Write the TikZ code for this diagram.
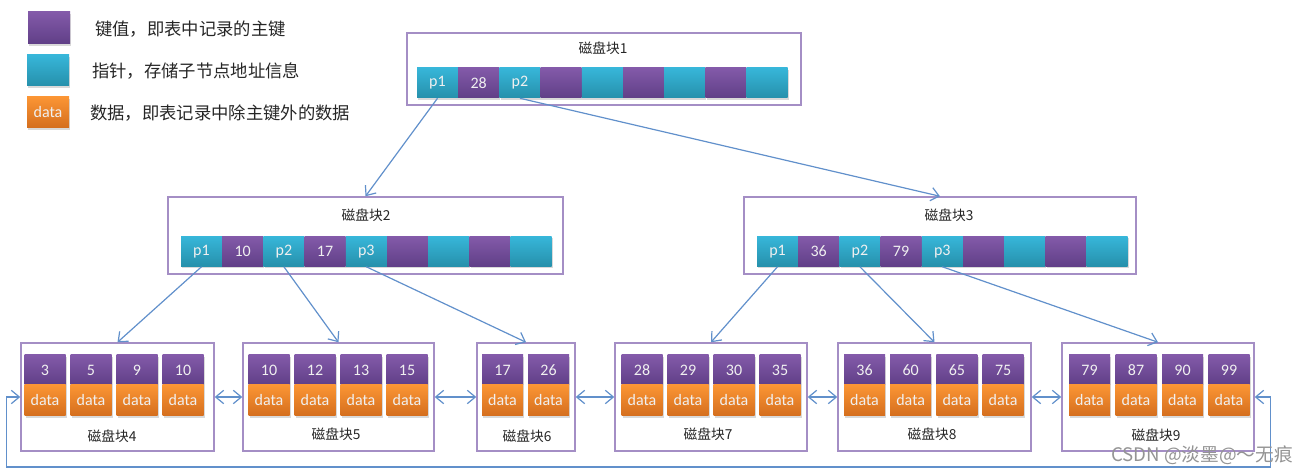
\documentclass[tikz,border=0pt]{standalone}
\usepackage{fontspec}
\usetikzlibrary{arrows.meta,shadows,fit,calc}
\newfontfamily\cjk{Noto Sans CJK SC}
\newfontfamily\carl{Carlito}
\definecolor{keytop}{HTML}{835AA9}
\definecolor{keybot}{HTML}{603F87}
\definecolor{ptrtop}{HTML}{37B6D9}
\definecolor{ptrbot}{HTML}{2690AB}
\definecolor{datatop}{HTML}{FB9534}
\definecolor{databot}{HTML}{D46E1E}
\definecolor{boxc}{HTML}{A48EC5}
\definecolor{linkc}{HTML}{6190CB}
\begin{document}
\begin{tikzpicture}[x=0.75pt,y=-0.75pt,
  cellbase/.style={inner sep=0pt, minimum width=30.75pt, minimum height=22.5pt,
    text=white!94!black, font=\carl\fontsize{12}{13}\selectfont,
    drop shadow={shadow xshift=0.9pt, shadow yshift=-1.3pt, opacity=0.3}},
  kc/.style={cellbase, top color=keytop, bottom color=keybot},
  pc/.style={cellbase, top color=ptrtop, bottom color=ptrbot},
  dc/.style={cellbase, top color=datatop, bottom color=databot, minimum height=23.25pt},
  blockbox/.style={draw=boxc, line width=1.1pt, inner sep=0pt},
  blocktitle/.style={font=\cjk\fontsize{10.3}{12}\selectfont, text=black!85, inner sep=0pt},
  legendtext/.style={font=\cjk\fontsize{13}{15}\selectfont, text=black!85, inner sep=0pt, anchor=west},
  tip/.tip={Straight Barb[length=6pt,width=10pt]},
  conn/.style={draw=linkc, line width=0.9pt, -tip},
  biconn/.style={draw=linkc, line width=0.9pt, tip-tip}]
\useasboundingbox (0,0) rectangle (1314,473);

% legend
\node[kc, minimum width=31.5pt, minimum height=24pt] (lg1) at (49,28) {};
\node[pc, minimum width=31.5pt, minimum height=23.25pt] (lg2) at (48,70.5) {};
\node[dc, minimum width=31.5pt, minimum height=23.25pt] (lg3) at (48,112.5) {data};
\node[legendtext] (lt1) at (95,29) {键值，即表中记录的主键};
\node[legendtext] (lt2) at (92,71) {指针，存储子节点地址信息};
\node[legendtext] (lt3) at (90,113) {数据，即表记录中除主键外的数据};

% block boxes
\node[blockbox, fit={(407,33) (801,105)}] (b1) {};
\node[blockbox, fit={(168,197) (563,274)}] (b2) {};
\node[blockbox, fit={(744,197) (1136,274)}] (b3) {};
\node[blockbox, fit={(21,343) (214,451)}] (b4) {};
\node[blockbox, fit={(243,343) (434,451)}] (b5) {};
\node[blockbox, fit={(477,343) (575,451)}] (b6) {};
\node[blockbox, fit={(615,343) (807,451)}] (b7) {};
\node[blockbox, fit={(838,343) (1031,451)}] (b8) {};
\node[blockbox, fit={(1062,343) (1254,451)}] (b9) {};

% titles
\node[blocktitle] (t1) at (603,48) {磁盘块1};
\node[blocktitle] (t2) at (366,215) {磁盘块2};
\node[blocktitle] (t3) at (949,215) {磁盘块3};
\node[blocktitle] (t4) at (112,436) {磁盘块4};
\node[blocktitle] (t5) at (336,434) {磁盘块5};
\node[blocktitle] (t6) at (527,436) {磁盘块6};
\node[blocktitle] (t7) at (708,434) {磁盘块7};
\node[blocktitle] (t8) at (932,434) {磁盘块8};
\node[blocktitle] (t9) at (1156,435) {磁盘块9};

% internal node cells
\foreach \i/\t/\lab in {1/pc/p1, 2/kc/28, 3/pc/p2, 4/kc/{}, 5/pc/{}, 6/kc/{}, 7/pc/{}, 8/kc/{}, 9/pc/{}}
  \node[\t] (c1-\i) at ({437.5+(\i-1)*41.2},83) {\lab};
\foreach \i/\t/\lab in {1/pc/p1, 2/kc/10, 3/pc/p2, 4/kc/17, 5/pc/p3, 6/kc/{}, 7/pc/{}, 8/kc/{}, 9/pc/{}}
  \node[\t] (c2-\i) at ({201.5+(\i-1)*41.2},251.5) {\lab};
\foreach \i/\t/\lab in {1/pc/p1, 2/kc/36, 3/pc/p2, 4/kc/79, 5/pc/p3, 6/kc/{}, 7/pc/{}, 8/kc/{}, 9/pc/{}}
  \node[\t] (c3-\i) at ({777.5+(\i-1)*41.2},251.5) {\lab};

% leaf cells
\foreach \k [count=\i] in {3,5,9,10} {
  \node[kc] (k4-\i) at ({45+(\i-1)*46},370) {\k};
  \node[dc] (d4-\i) at ({45+(\i-1)*46},400.5) {data};}
\foreach \k [count=\i] in {10,12,13,15} {
  \node[kc] (k5-\i) at ({269+(\i-1)*46},370) {\k};
  \node[dc] (d5-\i) at ({269+(\i-1)*46},400.5) {data};}
\foreach \k [count=\i] in {17,26} {
  \node[kc] (k6-\i) at ({502.5+(\i-1)*46},370) {\k};
  \node[dc] (d6-\i) at ({502.5+(\i-1)*46},400.5) {data};}
\foreach \k [count=\i] in {28,29,30,35} {
  \node[kc] (k7-\i) at ({642+(\i-1)*46},370) {\k};
  \node[dc] (d7-\i) at ({642+(\i-1)*46},400.5) {data};}
\foreach \k [count=\i] in {36,60,65,75} {
  \node[kc] (k8-\i) at ({864.5+(\i-1)*46.2},370) {\k};
  \node[dc] (d8-\i) at ({864.5+(\i-1)*46.2},400.5) {data};}
\foreach \k [count=\i] in {79,87,90,99} {
  \node[kc] (k9-\i) at ({1089.5+(\i-1)*46.5},370) {\k};
  \node[dc] (d9-\i) at ({1089.5+(\i-1)*46.5},400.5) {data};}

% tree connectors
\draw[conn] (c1-1.south) -- (b2.north);
\draw[conn] (c1-3.south) -- (b3.north);
\draw[conn] (c2-1.south) -- (b4.north);
\draw[conn] (c2-3.south) -- (b5.north);
\draw[conn] (c2-5.south) -- (b6.north);
\draw[conn] (c3-1.south) -- (b7.north);
\draw[conn] (c3-3.south) -- (b8.north);
\draw[conn] (c3-5.south) -- (b9.north);

% leaf links
\draw[biconn] (b4.east) -- (b5.west);
\draw[biconn] (b5.east) -- (b6.west);
\draw[biconn] (b6.east) -- (b7.west);
\draw[biconn] (b7.east) -- (b8.west);
\draw[biconn] (b8.east) -- (b9.west);
\draw[biconn] (b9.east) -- ++(16,0) -- ++(0,70) -| ($(b4.west)+(-14,0)$) -- (b4.west);

% watermark
\node[font=\cjk\fontsize{14}{16}\selectfont, text=black!42, anchor=west, inner sep=0pt] (wm) at (1111,455) {CSDN @淡墨@～无痕};
\end{tikzpicture}
\end{document}
